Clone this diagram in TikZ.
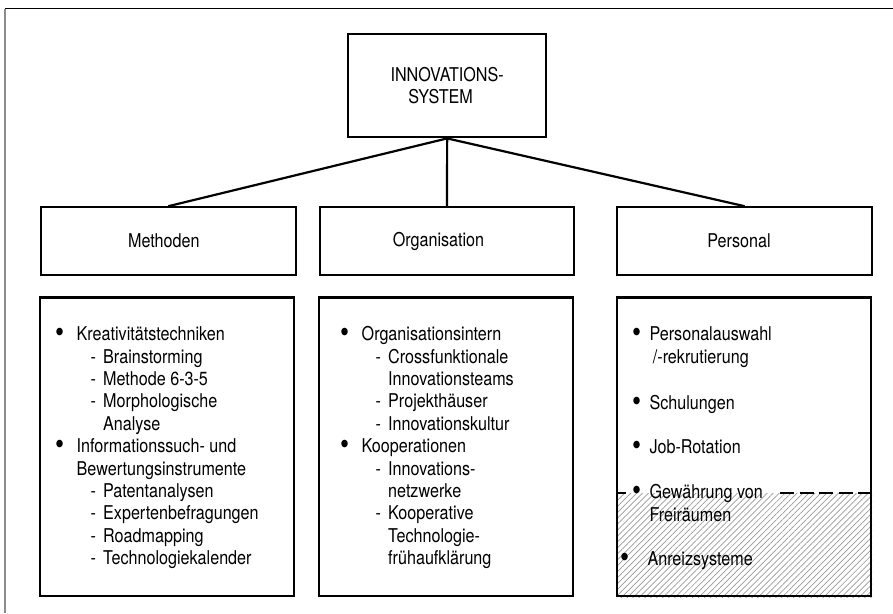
\documentclass[tikz,border=0pt]{standalone}
\usepackage{graphicx}
\usepackage{fontspec}
\setmainfont{TeX Gyre Heros}[FakeStretch=0.85]
\usetikzlibrary{patterns.meta,backgrounds}

\newcommand\mybul{\raisebox{-2.2pt}{\scalebox{1.6}{\textbullet}}}
\newcommand\colitems[1]{\vtop{\baselineskip=22.4pt\lineskiplimit=-\maxdimen\lineskip=0pt\relax #1}}
\newcommand\bulA[1]{\hbox{\makebox[21.5pt][l]{\mybul}#1}}
\newcommand\contA[1]{\hbox{\hspace*{21.5pt}#1}}
\newcommand\subB[1]{\hbox{\hspace*{35.5pt}\makebox[12.5pt][l]{-}#1}}
\newcommand\contB[1]{\hbox{\hspace*{48pt}#1}}
\newcommand\bulP[1]{\hbox{\makebox[17.3pt][l]{\mybul}#1}}
\newcommand\contP[1]{\hbox{\hspace*{17.3pt}#1}}

\begin{document}
\begin{tikzpicture}[x=1pt,y=-1pt,
  lbl/.style={font=\fontsize{19}{22.4}\selectfont},
  box/.style={draw, line width=2.2pt, inner sep=0pt, lbl},
  conn/.style={line width=2.2pt},
  lst/.style={inner sep=0pt, anchor=base west, lbl},
  hatch/.style={pattern={Lines[angle=45,distance=4.2pt,line width=0.7pt]}, pattern color=black!40},
  dashln/.style={line width=2.2pt, dash pattern=on 14pt off 5.5pt}]
\useasboundingbox (0,0) rectangle (893,613);

% outer frame (only top and left edges visible)
\coordinate (frTR) at (893,8.5);
\coordinate (frTL) at (5,8.5);
\coordinate (frBL) at (5,613);
\draw[line width=1.2pt] (frTR) -- (frTL);
\draw[line width=1.4pt, black!45] (frTL) -- (frBL);

% top box
\node[box, minimum width=197.7pt, minimum height=103.3pt, align=center] (top) at (447.15,85.65) {INNOVATIONS-\\SYSTEM\hspace*{13pt}};

% level 2
\node[box, minimum width=254.7pt, minimum height=67.4pt] (m2) at (168.35,241) {\hspace*{-9pt}Methoden};
\node[box, minimum width=254pt, minimum height=67.4pt] (o2) at (447,241) {\hspace*{-17pt}Organisation};
\node[box, minimum width=254.6pt, minimum height=67.4pt] (p2) at (744.6,241) {\hspace*{-11pt}Personal};

\draw[conn] (top.south) -- (m2.north);
\draw[conn] (top.south) -- (o2.north);
\draw[conn] (top.south) -- (p2.north);

% level 3 boxes
\node[box, minimum width=254.3pt, minimum height=298.7pt] (m3) at (167.15,446.85) {};
\node[box, minimum width=254pt, minimum height=298.7pt] (o3) at (446,446.85) {};
\node[box, minimum width=254pt, minimum height=298.7pt] (p3) at (744,446.85) {};

% hatched area in Personal
\coordinate (hatchNW) at (617,493.3);
\begin{scope}[on background layer]
  \path[hatch] (hatchNW) rectangle (p3.south east);
\end{scope}
\coordinate (dL2) at (626,493.3);
\coordinate (dR1) at (780,493.3);
\draw[line width=2.2pt] (hatchNW) -- (dL2);
\draw[dashln] (dR1) -- (p3.east |- dR1);

% Methoden list
\node[lst] (mlist) at (55,340.7) {\colitems{%
  \bulA{Kreativitätstechniken}
  \subB{Brainstorming}
  \subB{Methode 6-3-5}
  \subB{Morphologische}
  \contB{Analyse}
  \bulA{Informationssuch- und}
  \contA{Bewertungsinstrumente}
  \subB{Patentanalysen}
  \subB{Expertenbefragungen}
  \subB{Roadmapping}
  \subB{Technologiekalender}}};

% Organisation list
\node[lst] (olist) at (340,340.7) {\colitems{%
  \bulA{Organisationsintern}
  \subB{Crossfunktionale}
  \contB{Innovationsteams}
  \subB{Projekthäuser}
  \subB{Innovationskultur}
  \bulA{Kooperationen}
  \subB{Innovations-}
  \contB{netzwerke}
  \subB{Kooperative}
  \contB{Technologie-}
  \contB{frühaufklärung}}};

% Personal list
\node[lst] (pa) at (632,340.7) {\colitems{%
  \bulP{Personalauswahl}
  \contP{\hspace*{3.4pt}/-rekrutierung}}};
\node[lst] (pb) at (632,409) {\colitems{\bulP{Schulungen}}};
\node[lst] (pc) at (632,453.3) {\colitems{\bulP{Job-Rotation}}};
\node[lst] (pd) at (632,498.6) {\colitems{%
  \bulP{Gewährung von}
  \contP{Freiräumen}}};
\node[lst] (pe) at (620,565) {\colitems{\hbox{\makebox[27.3pt][l]{\mybul}Anreizsysteme}}};
\end{tikzpicture}
\end{document}
